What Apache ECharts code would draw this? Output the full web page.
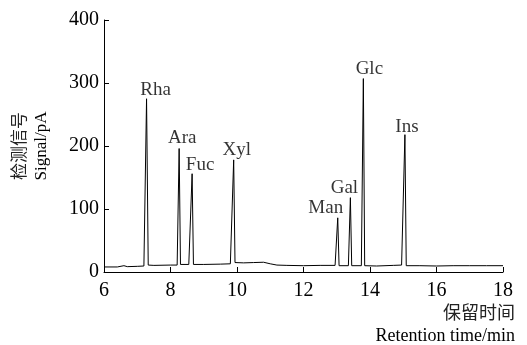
<!DOCTYPE html>
<html>
<head>
<meta charset="utf-8">
<script src="https://cdn.jsdelivr.net/npm/echarts@6/dist/echarts.min.js"></script>
<style>
    html, body { margin: 0; padding: 0; background: #fff; }
    #chart { width: 527px; height: 345px; }
</style>
</head>
<body>
<div id="chart"></div>
<script>
// retention time (min) / signal (pA) of the trace
var traceTime = [
    6.0, 6.4, 6.6, 6.7, 7.0, 7.2,
    7.24, 7.28, 7.33, 7.5, 8.0, 8.2,
    8.22, 8.26, 8.30, 8.55,
    8.60, 8.65, 8.69, 9.0, 9.5, 9.8,
    9.85, 9.90, 9.94, 10.2, 10.5, 10.8, 11.0, 11.2, 11.5, 12.0, 12.5, 12.95,
    12.99, 13.03, 13.07, 13.35,
    13.37, 13.41, 13.45, 13.74,
    13.76, 13.80, 13.84, 14.2, 14.7, 14.95,
    15.01, 15.05, 15.09, 15.5, 16.0, 16.5, 17.0, 17.5, 18.0
];
var traceSignal = [
    8, 8, 10, 8.5, 9, 9.5,
    10, 275, 11, 10.5, 11, 11,
    11, 196, 12, 12,
    12, 156, 12, 12, 12.5, 13,
    13, 178, 15, 14.5, 15, 15.5, 13, 11, 10.5, 10, 10.5, 10.5,
    10, 86, 10, 10,
    10, 118, 10, 10,
    10, 307, 10, 9.5, 10.5, 11,
    11, 218, 10, 10, 9.5, 10, 10, 10, 10
];

// peaks and their names
var peakNames = ['Rha', 'Ara', 'Fuc', 'Xyl', 'Man', 'Gal', 'Glc', 'Ins'];
var peakTime = [7.28, 8.26, 8.65, 9.90, 13.03, 13.41, 13.80, 15.05];
var peakSignal = [275, 196, 156, 178, 86, 118, 307, 218];

var xTicks = [6, 8, 10, 12, 14, 16, 18];
var yTicks = [0, 100, 200, 300, 400];

// label nudges (px) so the names sit where they do in the figure
var labelOffsets = [[9, 5], [3, 3], [8, 5], [3, 4], [-12, 4], [-6, 4], [6, 4], [2, 6]];

var serif = '"Liberation Serif", "Times New Roman", serif';
var cjk = '"Noto Sans CJK SC", sans-serif';
var ink = '#000';

var trace = traceTime.map(function (t, i) { return [t, traceSignal[i]]; });
var peaks = peakNames.map(function (n, i) {
    return {
        name: n,
        value: [peakTime[i], peakSignal[i]],
        label: { offset: labelOffsets[i] }
    };
});

var chart = echarts.init(document.getElementById('chart'));
chart.setOption({
    animation: false,
    backgroundColor: '#fff',
    grid: {
        left: 104,
        right: 24,
        top: 20,
        bottom: 73
    },
    xAxis: {
        type: 'value',
        min: xTicks[0],
        max: xTicks[xTicks.length - 1],
        interval: 2,
        axisLine: { lineStyle: { color: ink, width: 1 } },
        axisTick: { inside: true, length: 5, lineStyle: { color: ink } },
        axisLabel: {
            margin: 9,
            color: ink,
            fontFamily: serif,
            fontSize: 20
        },
        splitLine: { show: false }
    },
    yAxis: {
        type: 'value',
        min: yTicks[0],
        max: yTicks[yTicks.length - 1],
        interval: 100,
        axisLine: { show: true, lineStyle: { color: ink, width: 1 } },
        axisTick: { show: true, inside: true, length: 5, lineStyle: { color: ink } },
        axisLabel: {
            margin: 5,
            color: ink,
            fontFamily: serif,
            fontSize: 20
        },
        splitLine: { show: false }
    },
    graphic: [
        {
            type: 'text', x: 19, y: 146, rotation: Math.PI / 2,
            style: { text: '检测信号', font: '17px ' + cjk, fill: '#222', align: 'center', verticalAlign: 'middle', textAlign: 'center', textVerticalAlign: 'middle' }
        },
        {
            type: 'text', x: 42, y: 146, rotation: Math.PI / 2,
            style: { text: 'Signal/pA', font: '17px ' + serif, fill: ink, align: 'center', verticalAlign: 'middle', textAlign: 'center', textVerticalAlign: 'middle' }
        },
        {
            type: 'text', x: 515, y: 312,
            style: { text: '保留时间', font: '18px ' + cjk, fill: '#222', align: 'right', verticalAlign: 'middle', textAlign: 'right', textVerticalAlign: 'middle' }
        },
        {
            type: 'text', x: 515, y: 336,
            style: { text: 'Retention time/min', font: '18px ' + serif, fill: ink, align: 'right', verticalAlign: 'middle', textAlign: 'right', textVerticalAlign: 'middle' }
        }
    ],
    series: [
        {
            name: 'signal',
            type: 'line',
            data: trace,
            showSymbol: false,
            smooth: false,
            lineStyle: { color: ink, width: 1 }
        },
        {
            name: 'peaks',
            type: 'scatter',
            data: peaks,
            symbolSize: 1,
            itemStyle: { color: 'rgba(0,0,0,0)' },
            label: {
                show: true,
                position: 'top',
                distance: 4,
                formatter: '{b}',
                color: ink,
                fontFamily: serif,
                fontSize: 19
            },
            z: 5
        }
    ]
});
</script>
</body>
</html>
